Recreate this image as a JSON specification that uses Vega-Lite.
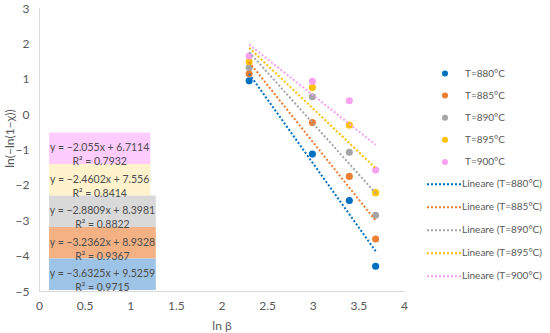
{
  "$schema": "https://vega.github.io/schema/vega-lite/v6.json",
  "autosize": "none",
  "width": 365,
  "height": 283,
  "padding": {"left": 39, "top": 8, "right": 146, "bottom": 42},
  "background": "white",
  "config": {
    "font": "Lato",
    "view": {"stroke": null},
    "axis": {
      "domainColor": "#D9D9D9",
      "grid": false,
      "ticks": false,
      "labelColor": "#595959",
      "titleColor": "#595959",
      "labelFont": "Lato",
      "titleFont": "Lato",
      "labelFontSize": 12,
      "titleFontSize": 12,
      "titleFontWeight": "normal",
      "labelOverlap": false
    },
    "legend": {
      "labelFont": "Lato",
      "labelFontSize": 10,
      "labelColor": "#595959",
      "padding": 0
    }
  },
  "datasets": {
    "pts": [
      {"series": "T=880°C", "trend": "Lineare (T=880°C)", "lnb": 2.303, "v": 0.94},
      {"series": "T=880°C", "trend": "Lineare (T=880°C)", "lnb": 2.996, "v": -1.13},
      {"series": "T=880°C", "trend": "Lineare (T=880°C)", "lnb": 3.401, "v": -2.44},
      {"series": "T=880°C", "trend": "Lineare (T=880°C)", "lnb": 3.689, "v": -4.30},
      {"series": "T=885°C", "trend": "Lineare (T=885°C)", "lnb": 2.303, "v": 1.14},
      {"series": "T=885°C", "trend": "Lineare (T=885°C)", "lnb": 2.996, "v": -0.24},
      {"series": "T=885°C", "trend": "Lineare (T=885°C)", "lnb": 3.401, "v": -1.76},
      {"series": "T=885°C", "trend": "Lineare (T=885°C)", "lnb": 3.689, "v": -3.53},
      {"series": "T=890°C", "trend": "Lineare (T=890°C)", "lnb": 2.303, "v": 1.32},
      {"series": "T=890°C", "trend": "Lineare (T=890°C)", "lnb": 2.996, "v": 0.49},
      {"series": "T=890°C", "trend": "Lineare (T=890°C)", "lnb": 3.401, "v": -1.08},
      {"series": "T=890°C", "trend": "Lineare (T=890°C)", "lnb": 3.689, "v": -2.86},
      {"series": "T=895°C", "trend": "Lineare (T=895°C)", "lnb": 2.303, "v": 1.48},
      {"series": "T=895°C", "trend": "Lineare (T=895°C)", "lnb": 2.996, "v": 0.75},
      {"series": "T=895°C", "trend": "Lineare (T=895°C)", "lnb": 3.401, "v": -0.31},
      {"series": "T=895°C", "trend": "Lineare (T=895°C)", "lnb": 3.689, "v": -2.22},
      {"series": "T=900°C", "trend": "Lineare (T=900°C)", "lnb": 2.303, "v": 1.64},
      {"series": "T=900°C", "trend": "Lineare (T=900°C)", "lnb": 2.996, "v": 0.93},
      {"series": "T=900°C", "trend": "Lineare (T=900°C)", "lnb": 3.401, "v": 0.38},
      {"series": "T=900°C", "trend": "Lineare (T=900°C)", "lnb": 3.689, "v": -1.58}
    ],
    "boxes": [
      {"fit": "fit 900", "x0": 0.11, "x1": 1.22, "y0": -0.52, "y1": -1.41, "xc": 0.665, "yc": -0.965, "label": "y = −2.055x + 6.7114\nR² = 0.7932"},
      {"fit": "fit 895", "x0": 0.11, "x1": 1.22, "y0": -1.41, "y1": -2.30, "xc": 0.665, "yc": -1.855, "label": "y = −2.4602x + 7.556\nR² = 0.8414"},
      {"fit": "fit 890", "x0": 0.11, "x1": 1.28, "y0": -2.30, "y1": -3.19, "xc": 0.695, "yc": -2.745, "label": "y = −2.8809x + 8.3981\nR² = 0.8822"},
      {"fit": "fit 885", "x0": 0.11, "x1": 1.28, "y0": -3.19, "y1": -4.08, "xc": 0.695, "yc": -3.635, "label": "y = −3.2362x + 8.9328\nR² = 0.9367"},
      {"fit": "fit 880", "x0": 0.11, "x1": 1.28, "y0": -4.08, "y1": -4.97, "xc": 0.695, "yc": -4.525, "label": "y = −3.6325x + 9.5259\nR² = 0.9715"}
    ]
  },
  "layer": [
    {
      "data": {"name": "boxes"},
      "mark": {"type": "rect"},
      "encoding": {
        "x": {"field": "x0", "type": "quantitative", "scale": {"domain": [0, 4]},
              "axis": {"values": [0, 0.5, 1, 1.5, 2, 2.5, 3, 3.5, 4], "tickCount": 9, "format": "~g", "title": "ln β", "labelPadding": 9, "titlePadding": 9, "labelFlush": false}},
        "x2": {"field": "x1"},
        "y": {"field": "y0", "type": "quantitative", "scale": {"domain": [-5, 3]},
              "axis": {"values": [-5, -4, -3, -2, -1, 0, 1, 2, 3], "tickCount": 9, "format": "~g", "title": "ln(−ln(1−χ))", "labelPadding": 10, "labelFlush": false, "titleX": -30, "titleY": 130, "titleAngle": -90, "titleBaseline": "middle", "titleAlign": "center"}},
        "y2": {"field": "y1"},
        "color": {"field": "fit", "type": "nominal", "legend": null,
                  "scale": {"domain": ["fit 880", "fit 885", "fit 890", "fit 895", "fit 900"],
                            "range": ["#9DC3E6", "#F4B183", "#D9D9D9", "#FFF2CC", "#FFCCFF"]}}
      }
    },
    {
      "data": {"name": "boxes"},
      "mark": {"type": "text", "lineBreak": "\n", "lineHeight": 14, "fontSize": 10.5, "color": "#4D4D4D", "align": "center", "baseline": "middle"},
      "encoding": {
        "x": {"field": "xc", "type": "quantitative"},
        "y": {"field": "yc", "type": "quantitative"},
        "text": {"field": "label"}
      }
    },
    {
      "data": {"name": "pts"},
      "mark": {"type": "point", "filled": true, "shape": "circle", "size": 50, "opacity": 1},
      "encoding": {
        "x": {"field": "lnb", "type": "quantitative"},
        "y": {"field": "v", "type": "quantitative"},
        "fill": {"field": "series", "type": "nominal",
                 "scale": {"domain": ["T=880°C", "T=885°C", "T=890°C", "T=895°C", "T=900°C"],
                           "range": ["#0070C0", "#ED7D31", "#A5A5A5", "#FFC000", "#F7A1F0"]},
                 "legend": {"title": null, "orient": "none", "legendX": 401, "legendY": 60.5, "symbolType": "circle", "symbolSize": 36, "labelOffset": 15, "rowPadding": 12.1}}
      }
    },
    {
      "data": {"name": "pts"},
      "transform": [{"regression": "v", "on": "lnb", "groupby": ["trend"]}],
      "mark": {"type": "line", "strokeDash": [2, 2], "strokeWidth": 2},
      "encoding": {
        "x": {"field": "lnb", "type": "quantitative"},
        "y": {"field": "v", "type": "quantitative"},
        "stroke": {"field": "trend", "type": "nominal",
                   "scale": {"domain": ["Lineare (T=880°C)", "Lineare (T=885°C)", "Lineare (T=890°C)", "Lineare (T=895°C)", "Lineare (T=900°C)"],
                             "range": ["#0070C0", "#ED7D31", "#A5A5A5", "#FFC000", "#F7A1F0"]},
                   "legend": {"title": null, "orient": "none", "legendX": 387, "legendY": 158.3, "symbolType": "stroke", "symbolSize": 1156, "symbolStrokeWidth": 2, "symbolDash": [2, 2], "labelOffset": 0, "rowPadding": -2.5, "labelLimit": 200}}
      }
    }
  ]
}
